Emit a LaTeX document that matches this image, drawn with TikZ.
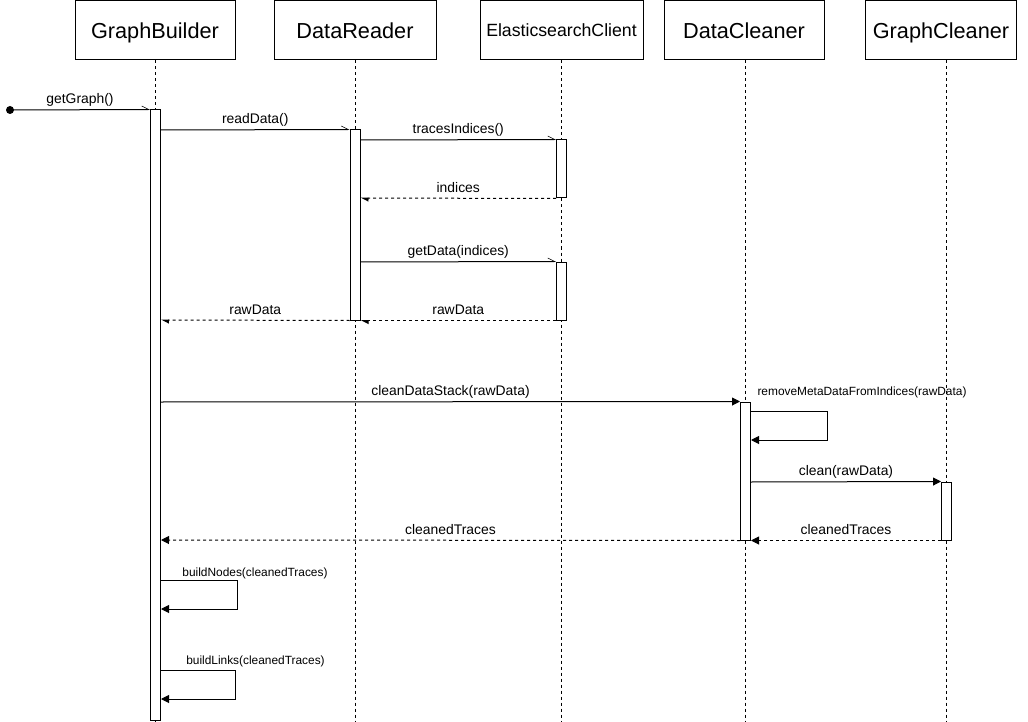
\documentclass[tikz,border=0pt]{standalone}
\usepackage{fontspec}
\setmainfont{Liberation Sans}
\usetikzlibrary{arrows.meta,backgrounds}
\newcommand{\boxfont}{\fontsize{21.7}{26}\selectfont}
\newcommand{\esfont}{\fontsize{17.7}{21}\selectfont}
\newcommand{\msgfont}{\fontsize{13.9}{16}\selectfont}
\newcommand{\selffont}{\fontsize{11.9}{14}\selectfont}
\tikzset{
  actor/.style={draw, line width=1pt, minimum height=59pt, inner sep=0pt, text depth=0pt, font=\boxfont},
  bar/.style={draw, line width=1pt, fill=white, minimum width=10pt, inner sep=0pt},
  lifeline/.style={line width=1pt, dash pattern=on 3pt off 3pt},
  call/.style={line width=1pt, -{Triangle[length=8pt,width=8pt]}},
  opencall/.style={line width=1pt, -{Straight Barb[left,length=7pt,width=7pt,line width=0.6pt]}},
  reply/.style={line width=1pt, dash pattern=on 3pt off 3pt, -{Triangle[length=8pt,width=8pt]}},
  halfreply/.style={line width=1pt, dash pattern=on 3pt off 3pt, -{Triangle[left,length=7pt,width=7pt]}},
  lbl/.style={font=\msgfont, anchor=base, yshift=6pt, inner sep=0pt},
  selflbl/.style={font=\selffont, anchor=base, inner sep=0pt},
}
\begin{document}
\begin{tikzpicture}[x=1pt,y=-1pt]
    \useasboundingbox (0,0) rectangle (1028,722);
    % participants
    \node[actor, minimum width=160pt] (gb) at (155,30.5) {GraphBuilder};
    \node[actor, minimum width=162pt] (dr) at (355,30.5) {DataReader};
    \node[actor, minimum width=163pt, font=\esfont] (es) at (561.5,30.5) {ElasticsearchClient};
    \node[actor, minimum width=160pt] (dc) at (744,30.5) {DataCleaner};
    \node[actor, minimum width=151pt] (gc) at (941,30.5) {GraphCleaner};
    % activation bars
    \node[bar, minimum height=610pt] (bar-gb) at (155.5,415) {};
    \node[bar, minimum height=190pt] (bar-dr) at (355,225) {};
    \node[bar, minimum height=58pt] (bar-es) at (561.5,169) {};
    \node[bar, minimum height=58pt] (bar-es2) at (561.5,291) {};
    \node[bar, minimum height=138pt] (bar-dc) at (745.5,471) {};
    \node[bar, minimum height=58pt] (bar-gc) at (946.5,511) {};
    \begin{scope}[on background layer]
        \fill[white] (0,0) rectangle (1028,722);
        \foreach \p in {gb,dr,es,dc,gc}{
            \draw[lifeline] (bar-\p.north |- \p.south) -- (bar-\p.north |- 0,722);
            };
    \end{scope}
    % messages
    \coordinate (start) at (10,110);
    \fill (start) circle (4pt);
    \draw[opencall] (start) -- (bar-gb.north west)
        node[lbl, midway] (l-getGraph) {getGraph()};
    \draw[opencall] (bar-gb.east |- 0,130) -- (bar-dr.north west)
        node[lbl, midway] (l-readData) {readData()};
    \draw[opencall] (bar-dr.east |- 0,140) -- (bar-es.north west)
        node[lbl, midway] (l-tracesIndices) {tracesIndices()};
    \draw[halfreply] (bar-es.south west) -- (bar-dr.east |- 0,198)
        node[lbl, midway] (l-indices) {indices};
    \draw[opencall] (bar-dr.east |- 0,262) -- (bar-es2.north west)
        node[lbl, midway] (l-getData) {getData(indices)};
    \draw[halfreply] (bar-es2.south west) -- (bar-dr.south east)
        node[lbl, midway] (l-rawData2) {rawData};
    \draw[halfreply] (bar-dr.south west) -- (bar-gb.east |- 0,320)
        node[lbl, midway] (l-rawData1) {rawData};
    \draw[call] (bar-gb.east |- 0,402) -- (bar-dc.north west)
        node[lbl, midway] (l-cleanDataStack) {cleanDataStack(rawData)};
    \draw[call] (bar-dc.east |- 0,411) -- ++(76,0) -- ++(0,29) -- (bar-dc.east |- 0,440);
    \node[selflbl] (l-removeMeta) at (862,395) {removeMetaDataFromIndices(rawData)};
    \draw[call] (bar-dc.east |- 0,482) -- (bar-gc.north west)
        node[lbl, midway] (l-clean) {clean(rawData)};
    \draw[reply] (bar-gc.south west) -- (bar-dc.south east)
        node[lbl, midway] (l-cleanedTraces2) {cleanedTraces};
    \draw[reply] (bar-dc.south west) -- (bar-gb.east |- 0,540)
        node[lbl, midway] (l-cleanedTraces1) {cleanedTraces};
    \draw[call] (bar-gb.east |- 0,580) -- ++(76,0) -- ++(0,29) -- (bar-gb.east |- 0,609);
    \node[selflbl] (l-buildNodes) at (255,576) {buildNodes(cleanedTraces)};
    \draw[call] (bar-gb.east |- 0,670) -- ++(74,0) -- ++(0,29) -- (bar-gb.east |- 0,699);
    \node[selflbl] (l-buildLinks) at (255.5,664) {buildLinks(cleanedTraces)};
\end{tikzpicture}
\end{document}
